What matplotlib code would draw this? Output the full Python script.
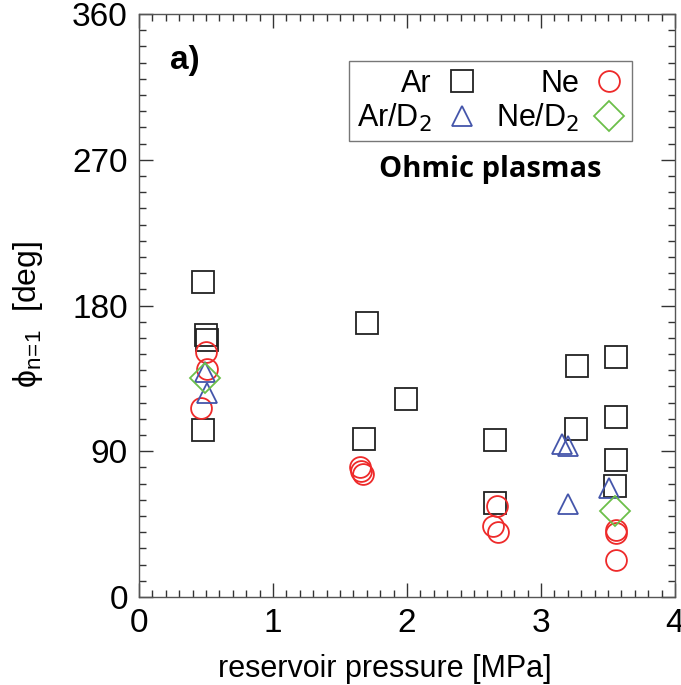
import numpy as np
import matplotlib.pyplot as plt
from matplotlib.ticker import MultipleLocator

plt.rcParams['font.family'] = ['Liberation Sans', 'DejaVu Sans']

# данные
ar_x = [0.48, 0.50, 0.51, 0.48, 1.70, 1.99, 1.68, 2.66, 2.66, 3.27, 3.56, 3.56, 3.26, 3.56, 3.55]
ar_y = [194.5, 161.5, 158.5, 103, 169.5, 122, 97.5, 97, 58, 142.5, 148, 111, 104, 84.5, 68.5]

ne_x = [0.50, 0.51, 0.46, 1.65, 1.66, 1.67, 2.67, 2.64, 2.68, 3.56, 3.56, 3.56]
ne_y = [151, 141, 116.5, 80.5, 78, 76, 56.5, 44, 40, 41.5, 39.5, 23]

ard2_x = [0.49, 0.51, 3.16, 3.20, 3.20, 3.51]
ard2_y = [139, 126, 94.5, 93.5, 57.5, 67.5]

ned2_x = [0.49, 3.55]
ned2_y = [135, 53]

fig = plt.figure(figsize=(6.81, 6.85), dpi=100)
ax = fig.add_axes([139 / 681, 1 - 597 / 685, 536 / 681, 583 / 685])

lw = 1.3
ax.plot(ar_x, ar_y, 's', ms=16, mfc='none', mec='#222222', mew=lw, label='Ar')
ax.plot(ne_x, ne_y, 'o', ms=15, mfc='none', mec='#ee2a2a', mew=lw, label='Ne')
ax.plot(ard2_x, ard2_y, '^', ms=14.5, mfc='none', mec='#4455aa', mew=lw, label='Ar/D$_2$')
ax.plot(ned2_x, ned2_y, 'D', ms=15, mfc='none', mec='#6cbf4a', mew=lw, label='Ne/D$_2$')

ax.set_xlim(0, 4)
ax.set_ylim(0, 360)
ax.xaxis.set_major_locator(MultipleLocator(1))
ax.xaxis.set_minor_locator(MultipleLocator(0.1))
ax.yaxis.set_major_locator(MultipleLocator(90))
ax.yaxis.set_minor_locator(MultipleLocator(10))
ax.tick_params(which='both', direction='in', top=True, right=True, width=1.0, color='#333333')
ax.tick_params(which='major', length=10, labelsize=24, pad=8)
ax.tick_params(which='minor', length=5)
for s in ax.spines.values():
    s.set_color('#555555')
    s.set_linewidth(1.0)

ax.set_xlabel('reservoir pressure [MPa]', fontsize=22)
ax.xaxis.set_label_coords(0.459, -0.097)
ax.set_ylabel(r'$\mathregular{\phi_{n\!=\!1}}$  [deg]', fontsize=23)
ax.yaxis.set_label_coords(-0.175, 0.485)

handles, labels = ax.get_legend_handles_labels()
leg = ax.legend([handles[0], handles[2], handles[1], handles[3]],
                [labels[0], labels[2], labels[1], labels[3]],
                ncol=2, markerfirst=False, loc='upper left',
                bbox_to_anchor=(210 / 536, 1 - 47 / 583),
                fontsize=22, frameon=True, fancybox=False, edgecolor='#555555',
                handlelength=1.0, handletextpad=0.5, columnspacing=0.6,
                labelspacing=0.1, borderpad=0.25, borderaxespad=0)
leg.get_frame().set_linewidth(1.0)

ax.text(0.058, 0.905, 'a)', transform=ax.transAxes, fontsize=24, fontweight='bold')
ax.text(0.655, 0.733, 'Ohmic plasmas', transform=ax.transAxes, fontsize=21,
        fontweight='bold', ha='center', va='center', family=['Open Sans', 'DejaVu Sans'])

fig.savefig('out.png', dpi=100)
